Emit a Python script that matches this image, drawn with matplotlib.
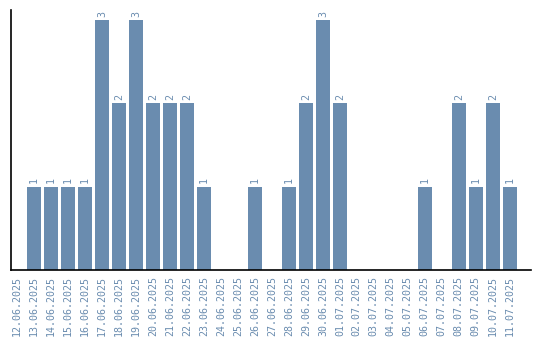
import matplotlib.pyplot as plt

# daily counts, 12.06.2025 - 11.07.2025
dates = ["12.06.2025", "13.06.2025", "14.06.2025", "15.06.2025", "16.06.2025",
         "17.06.2025", "18.06.2025", "19.06.2025", "20.06.2025", "21.06.2025",
         "22.06.2025", "23.06.2025", "24.06.2025", "25.06.2025", "26.06.2025",
         "27.06.2025", "28.06.2025", "29.06.2025", "30.06.2025", "01.07.2025",
         "02.07.2025", "03.07.2025", "04.07.2025", "05.07.2025", "06.07.2025",
         "07.07.2025", "08.07.2025", "09.07.2025", "10.07.2025", "11.07.2025"]
counts = [0, 1, 1, 1, 1, 3, 2, 3, 2, 2,
          2, 1, 0, 0, 1, 0, 1, 2, 3, 2,
          0, 0, 0, 0, 1, 0, 2, 1, 2, 1]

bar_color = "#6a8caf"

fig = plt.figure(figsize=(5.4, 3.4), dpi=100)
ax = fig.add_axes([0.0195, 0.206, 0.963, 0.764])

x = list(range(len(dates)))
ax.bar(x, counts, width=0.82, color=bar_color)

# value labels above non-empty bars
for xi, c in zip(x, counts):
    if c > 0:
        ax.text(xi, c + 0.04, str(c), rotation=90, ha="center", va="bottom",
                fontsize=7.2, family="DejaVu Sans Mono", color=bar_color)

ax.set_xticks(x)
ax.set_xticklabels(dates, rotation=90, fontsize=7.2, family="DejaVu Sans Mono",
                   color=bar_color)
ax.tick_params(axis="x", length=0, pad=4)
ax.set_yticks([])

ax.set_xlim(-0.38, 30.22)
ax.set_ylim(0, 3.12)

for side in ["top", "right"]:
    ax.spines[side].set_visible(False)
ax.spines["left"].set_linewidth(1.2)
ax.spines["bottom"].set_linewidth(1.2)

plt.savefig("out.png", dpi=100)
